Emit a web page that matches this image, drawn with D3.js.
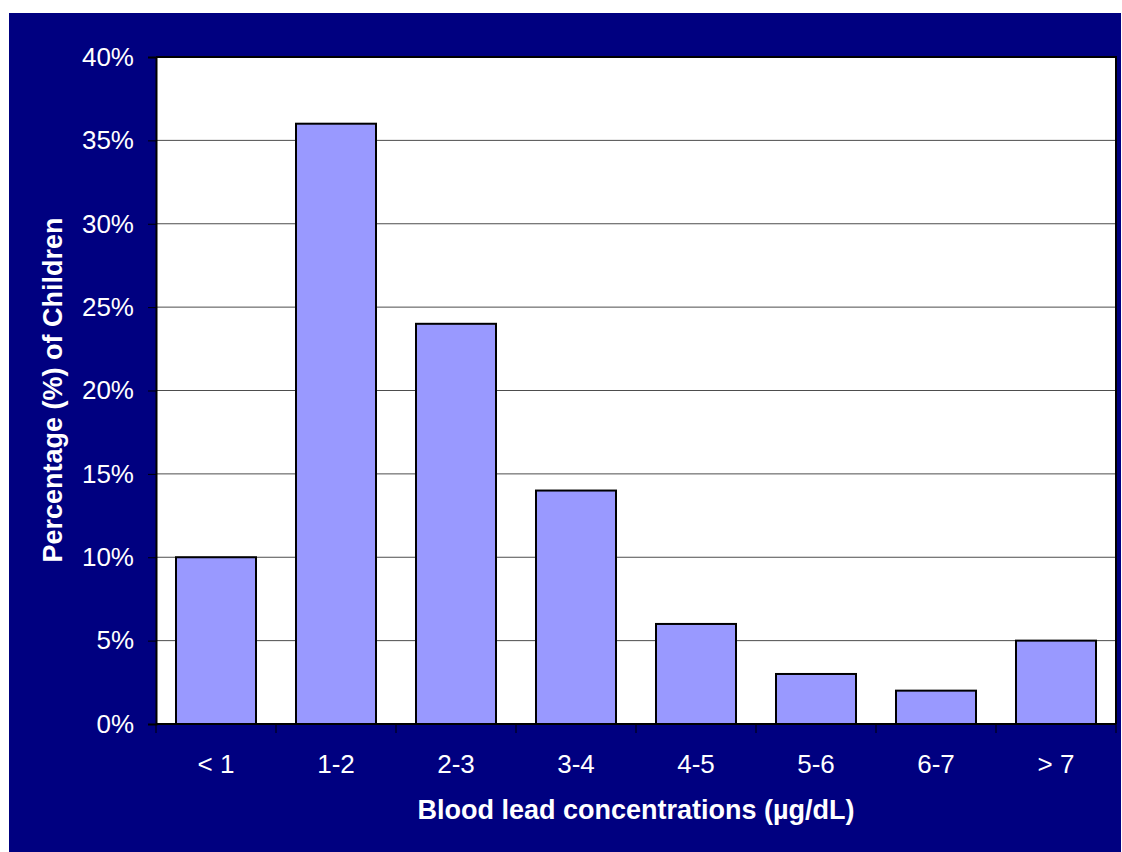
<!DOCTYPE html>
<html>
<head>
<meta charset="utf-8">
<script src="https://cdn.jsdelivr.net/npm/d3@7"></script>
<style>
  html, body { margin: 0; padding: 0; background: #ffffff; }
  svg { display: block; }
  text { font-family: "Liberation Sans", Arial, sans-serif; fill: #ffffff; }
</style>
</head>
<body>
<svg id="chart" width="1122" height="852"></svg>
<script>
// Share of children by blood lead concentration band
const categories = ["< 1", "1-2", "2-3", "3-4", "4-5", "5-6", "6-7", "> 7"];
const percentages = [10, 36, 24, 14, 6, 3, 2, 5];
const yTicks = [0, 5, 10, 15, 20, 25, 30, 35, 40];
const xTitle = "Blood lead concentrations (µg/dL)";
const yTitle = "Percentage (%) of Children";

const svg = d3.select("#chart");
const W = 1122, H = 852;

// navy backdrop
svg.append("rect")
  .attr("x", 9).attr("y", 13)
  .attr("width", W - 10).attr("height", H - 13)
  .attr("fill", "#000080");

const plot = { left: 156, top: 57, right: 1116, bottom: 724 };

const x = d3.scaleBand()
  .domain(categories)
  .range([plot.left, plot.right])
  .paddingInner(1 / 3)
  .paddingOuter(1 / 6);

const y = d3.scaleLinear()
  .domain([0, 40])
  .range([plot.bottom, plot.top]);

// plot area
svg.append("rect")
  .attr("x", plot.left).attr("y", plot.top)
  .attr("width", plot.right - plot.left)
  .attr("height", plot.bottom - plot.top)
  .attr("fill", "#ffffff");

// horizontal gridlines
svg.append("g")
  .selectAll("line")
  .data(yTicks.filter(t => t > 0 && t < 40))
  .join("line")
  .attr("x1", plot.left).attr("x2", plot.right)
  .attr("y1", d => y(d)).attr("y2", d => y(d))
  .attr("stroke", "#4d4d4d")
  .attr("stroke-width", 1);

// bars
svg.append("g")
  .selectAll("rect")
  .data(categories.map((c, i) => ({ c, v: percentages[i] })))
  .join("rect")
  .attr("x", d => x(d.c))
  .attr("y", d => y(d.v))
  .attr("width", x.bandwidth())
  .attr("height", d => y(0) - y(d.v))
  .attr("fill", "#9999ff")
  .attr("stroke", "#000000")
  .attr("stroke-width", 2);

// top and right border of the plot area
svg.append("path")
  .attr("d", `M${plot.left},${plot.top}H${plot.right}V${plot.bottom}`)
  .attr("fill", "none")
  .attr("stroke", "#000000")
  .attr("stroke-width", 2);

// y axis
const yAxis = d3.axisLeft(y)
  .tickValues(yTicks)
  .tickFormat(d => d + "%")
  .tickSize(8)
  .tickPadding(14);

const gy = svg.append("g")
  .attr("transform", `translate(${plot.left},0)`)
  .call(yAxis);
gy.select(".domain").attr("stroke", "#000000").attr("stroke-width", 2);
gy.selectAll(".tick line").attr("stroke", "#000000").attr("stroke-width", 1);
gy.selectAll(".tick text")
  .attr("fill", "#ffffff")
  .style("font-family", "'Liberation Sans', Arial, sans-serif")
  .style("font-size", "26px");

// x axis: ticks sit on category boundaries
const boundaries = d3.range(categories.length + 1)
  .map(i => plot.left + i * x.step());

const gx = svg.append("g");
gx.append("line")
  .attr("x1", plot.left).attr("x2", plot.right)
  .attr("y1", plot.bottom).attr("y2", plot.bottom)
  .attr("stroke", "#000000").attr("stroke-width", 2);
gx.selectAll("line.tick")
  .data(boundaries)
  .join("line")
  .attr("class", "tick")
  .attr("x1", d => d).attr("x2", d => d)
  .attr("y1", plot.bottom).attr("y2", plot.bottom + 9)
  .attr("stroke", "#000000").attr("stroke-width", 1);
gx.selectAll("text")
  .data(categories)
  .join("text")
  .attr("x", d => x(d) + x.bandwidth() / 2)
  .attr("y", 773)
  .attr("text-anchor", "middle")
  .style("font-size", "26px")
  .text(d => d);

// axis titles
svg.append("text")
  .attr("x", 636).attr("y", 819)
  .attr("text-anchor", "middle")
  .style("font-size", "27px")
  .style("font-weight", "bold")
  .text(xTitle);

svg.append("text")
  .attr("transform", "translate(62,390) rotate(-90)")
  .attr("text-anchor", "middle")
  .style("font-size", "27px")
  .style("font-weight", "bold")
  .text(yTitle);
</script>
</body>
</html>
